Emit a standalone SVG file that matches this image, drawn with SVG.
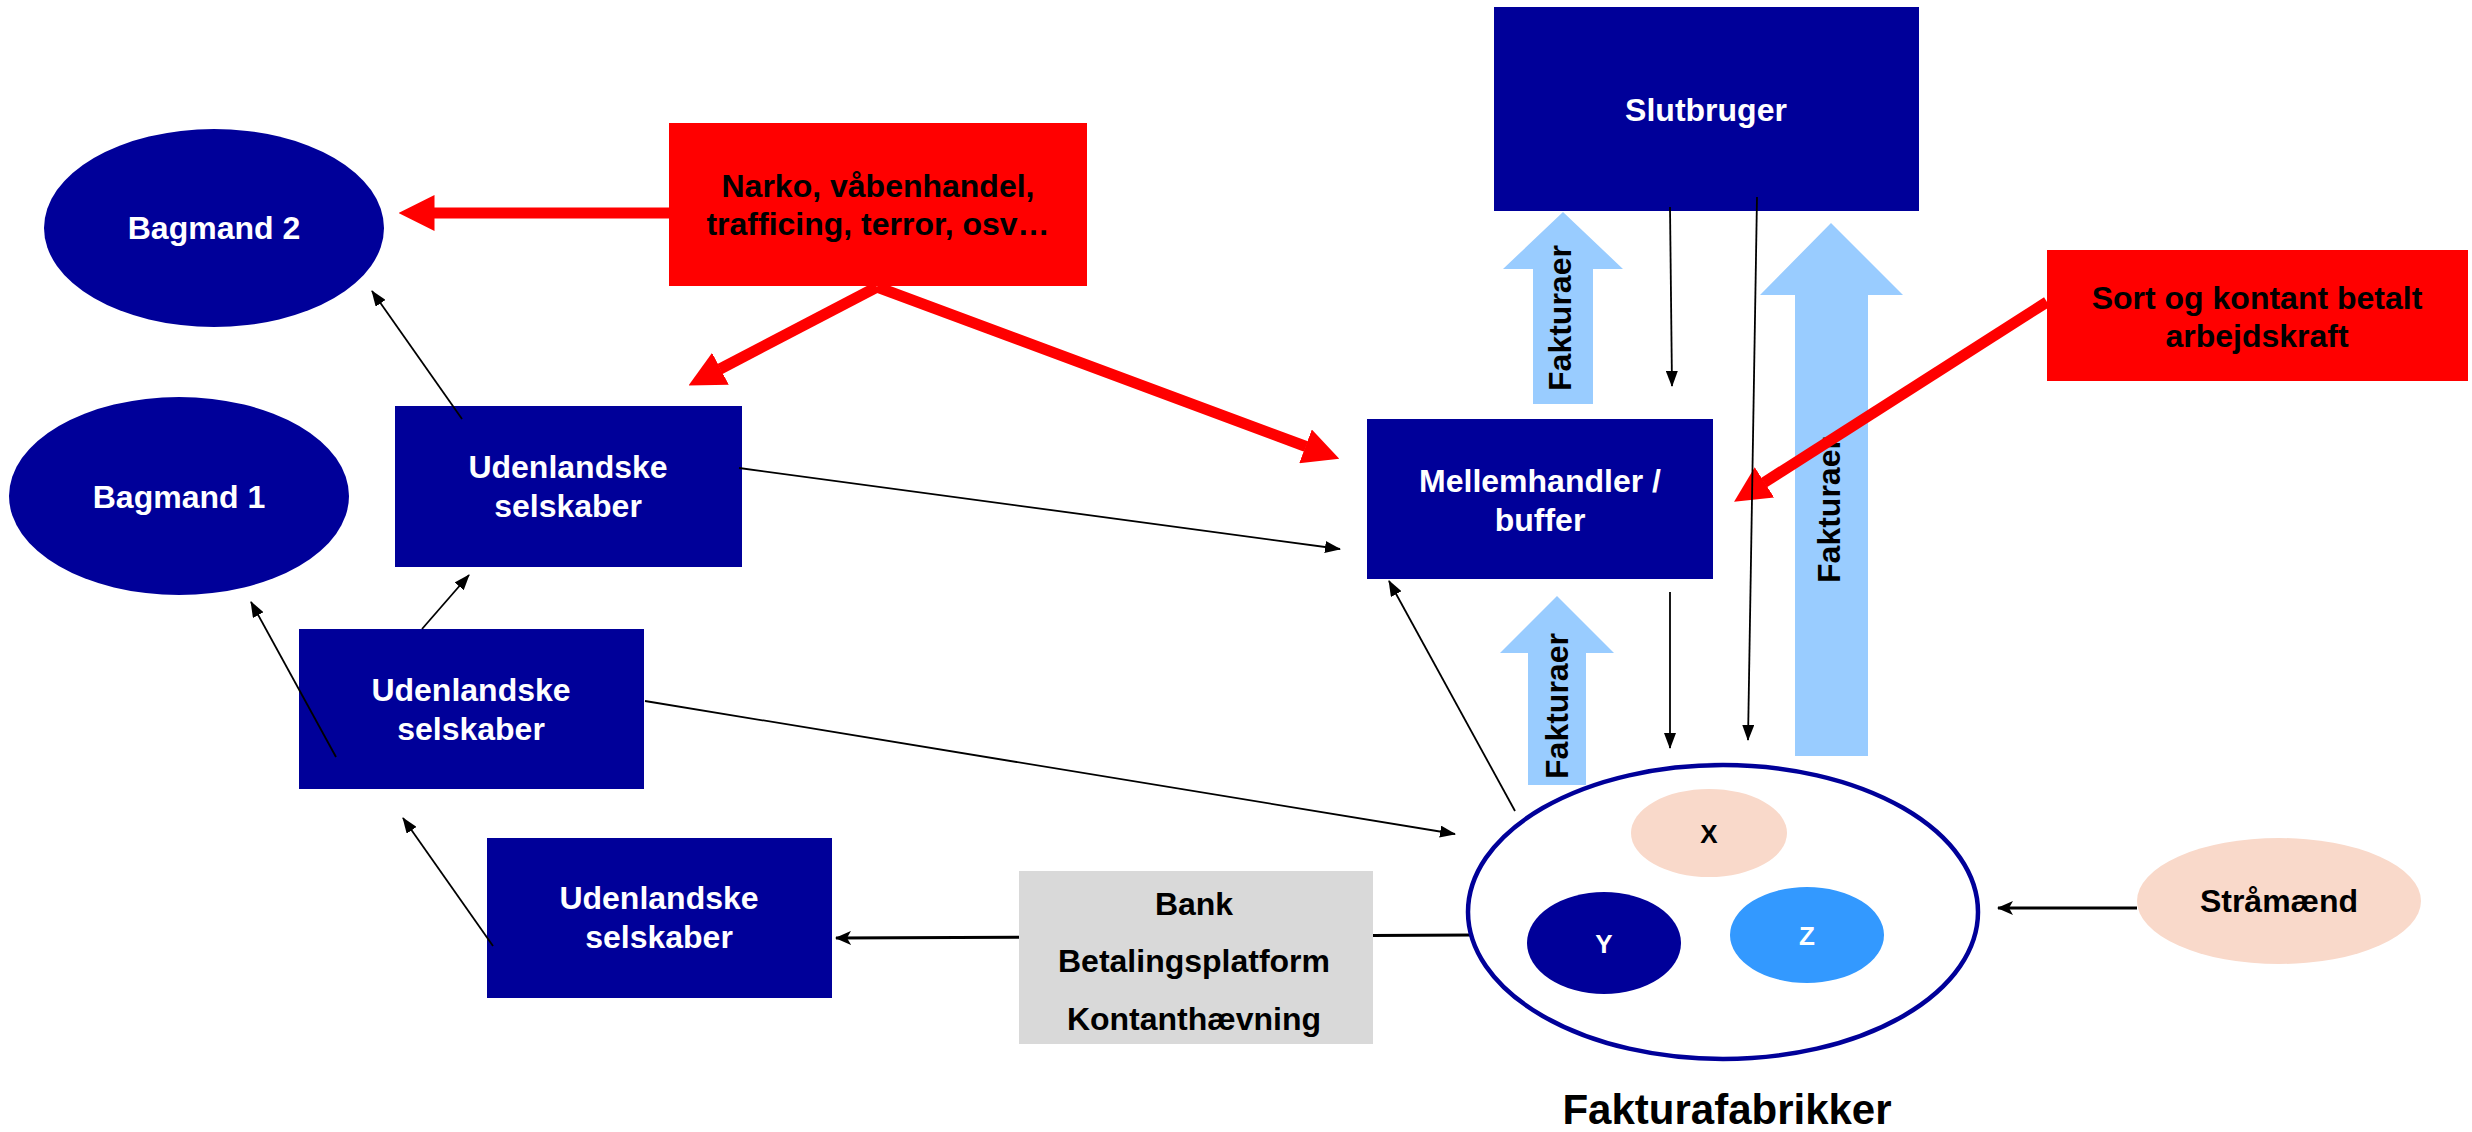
<svg xmlns="http://www.w3.org/2000/svg" width="2472" height="1132" viewBox="0 0 2472 1132">
<style>
  .t { font-family: "Liberation Sans", Arial, sans-serif; font-weight: bold; font-size: 32px; text-anchor: middle; }
  .w { fill: #FFFFFF; }
  .b { fill: #000000; }
  .node { fill: #000099; }
  .red { fill: #FF0000; }
  .fak { fill: #99CCFF; }
  .peach { fill: #F9D9CA; }
  .thin { stroke: #000000; stroke-width: 1.8; fill: none; marker-end: url(#ah); }
  .thick { stroke: #000000; stroke-width: 3; fill: none; marker-end: url(#ah2); }
  .redline { stroke: #FF0000; stroke-width: 11; fill: none; marker-end: url(#rh); }
</style>
<defs>
  <marker id="ah" markerUnits="userSpaceOnUse" viewBox="0 0 16 12" markerWidth="16" markerHeight="12" refX="15" refY="6" orient="auto">
    <path d="M0,0 L16,6 L0,12 z" fill="#000000"/>
  </marker>
  <marker id="ah2" markerUnits="userSpaceOnUse" viewBox="0 0 16 14" markerWidth="16" markerHeight="14" refX="15" refY="7" orient="auto">
    <path d="M0,0 L16,7 L0,14 L4,7 z" fill="#000000"/>
  </marker>
  <marker id="rh" markerUnits="userSpaceOnUse" viewBox="0 0 36 36" markerWidth="36" markerHeight="36" refX="0.5" refY="18" orient="auto">
    <path d="M0,0 L36,18 L0,36 z" fill="#FF0000"/>
  </marker>
</defs>

<g id="fakturaer-arrows">
  <g id="fakturaer-upper">
    <polygon class="fak" points="1563,212 1623,269 1593,269 1593,404 1533,404 1533,269 1503,269"/>
    <text class="t b" transform="translate(1571,318) rotate(-90)">Fakturaer</text>
  </g>
  <g id="fakturaer-big">
    <polygon class="fak" points="1831,223 1903,295 1868,295 1868,756 1795,756 1795,295 1760,295"/>
    <text class="t b" transform="translate(1840,510) rotate(-90)">Fakturaer</text>
  </g>
  <g id="fakturaer-lower">
    <polygon class="fak" points="1557,596 1614,653 1586,653 1586,785 1528,785 1528,653 1500,653"/>
    <text class="t b" transform="translate(1568,706) rotate(-90)">Fakturaer</text>
  </g>
</g>

<g id="bagmand2">
  <ellipse class="node" cx="214" cy="228" rx="170" ry="99"/>
  <text class="t w" x="214" y="239">Bagmand 2</text>
</g>
<g id="bagmand1">
  <ellipse class="node" cx="179" cy="496" rx="170" ry="99"/>
  <text class="t w" x="179" y="508">Bagmand 1</text>
</g>
<g id="udenlandske1">
  <rect class="node" x="395" y="406" width="347" height="161"/>
  <text class="t w" x="568" y="478">Udenlandske</text>
  <text class="t w" x="568" y="517">selskaber</text>
</g>
<g id="udenlandske2">
  <rect class="node" x="299" y="629" width="345" height="160"/>
  <text class="t w" x="471" y="701">Udenlandske</text>
  <text class="t w" x="471" y="740">selskaber</text>
</g>
<g id="udenlandske3">
  <rect class="node" x="487" y="838" width="345" height="160"/>
  <text class="t w" x="659" y="909">Udenlandske</text>
  <text class="t w" x="659" y="948">selskaber</text>
</g>
<g id="narko">
  <rect class="red" x="669" y="123" width="418" height="163"/>
  <text class="t b" x="878" y="197">Narko, våbenhandel,</text>
  <text class="t b" x="878" y="235">trafficing, terror, osv…</text>
</g>
<g id="slutbruger">
  <rect class="node" x="1494" y="7" width="425" height="204"/>
  <text class="t w" x="1706" y="121">Slutbruger</text>
</g>
<g id="mellemhandler">
  <rect class="node" x="1367" y="419" width="346" height="160"/>
  <text class="t w" x="1540" y="492">Mellemhandler /</text>
  <text class="t w" x="1540" y="531">buffer</text>
</g>
<g id="sort">
  <rect class="red" x="2047" y="250" width="421" height="131"/>
  <text class="t b" x="2257" y="309">Sort og kontant betalt</text>
  <text class="t b" x="2257" y="347">arbejdskraft</text>
</g>

<g id="connectors">
  <line class="thick" x1="1474" y1="935" x2="836" y2="938"/>
  <line class="thin" x1="739" y1="468" x2="1340" y2="549"/>
  <line class="thin" x1="462" y1="419" x2="372" y2="291"/>
  <line class="thin" x1="422" y1="629" x2="469" y2="575"/>
  <line class="thin" x1="336" y1="757" x2="251" y2="602"/>
  <line class="thin" x1="645" y1="701" x2="1455" y2="834"/>
  <line class="thin" x1="493" y1="946" x2="403" y2="818"/>
  <line class="thick" x1="2137" y1="908" x2="1998" y2="908"/>
  <line class="thin" x1="1515" y1="811" x2="1389" y2="581"/>
  <line class="thin" x1="1670" y1="207" x2="1672" y2="386"/>
  <line class="thin" x1="1670" y1="592" x2="1670" y2="748"/>
</g>

<g id="bank">
  <rect x="1019" y="871" width="354" height="173" fill="#D9D9D9"/>
  <text class="t b" x="1194" y="915">Bank</text>
  <text class="t b" x="1194" y="972">Betalingsplatform</text>
  <text class="t b" x="1194" y="1030">Kontanthævning</text>
</g>

<g id="fakturafabrikker">
  <ellipse cx="1723" cy="912" rx="255" ry="147" fill="#FFFFFF" stroke="#000099" stroke-width="4.5"/>
  <text class="t b" x="1727" y="1124" style="font-size:42px">Fakturafabrikker</text>
</g>
<g id="x">
  <ellipse class="peach" cx="1709" cy="833" rx="78" ry="44"/>
  <text class="t b" x="1709" y="843" style="font-size:26px">X</text>
</g>
<g id="y">
  <ellipse class="node" cx="1604" cy="943" rx="77" ry="51"/>
  <text class="t w" x="1604" y="953" style="font-size:26px">Y</text>
</g>
<g id="z">
  <ellipse cx="1807" cy="935" rx="77" ry="48" fill="#3399FF"/>
  <text class="t w" x="1807" y="945" style="font-size:26px">Z</text>
</g>
<g id="straamaend">
  <ellipse class="peach" cx="2279" cy="901" rx="142" ry="63"/>
  <text class="t b" x="2279" y="912">Stråmænd</text>
</g>

<g id="red-connectors">
  <line class="redline" x1="669" y1="213" x2="434" y2="213"/>
  <line class="redline" x1="877" y1="287" x2="720" y2="369"/>
  <line class="redline" x1="877" y1="287" x2="1306" y2="446.5"/>
  <line class="redline" x1="2047" y1="302" x2="1764" y2="482.6"/>
</g>

<g id="connectors-top">
  <line class="thin" x1="1757" y1="197" x2="1748" y2="740"/>
</g>
</svg>
